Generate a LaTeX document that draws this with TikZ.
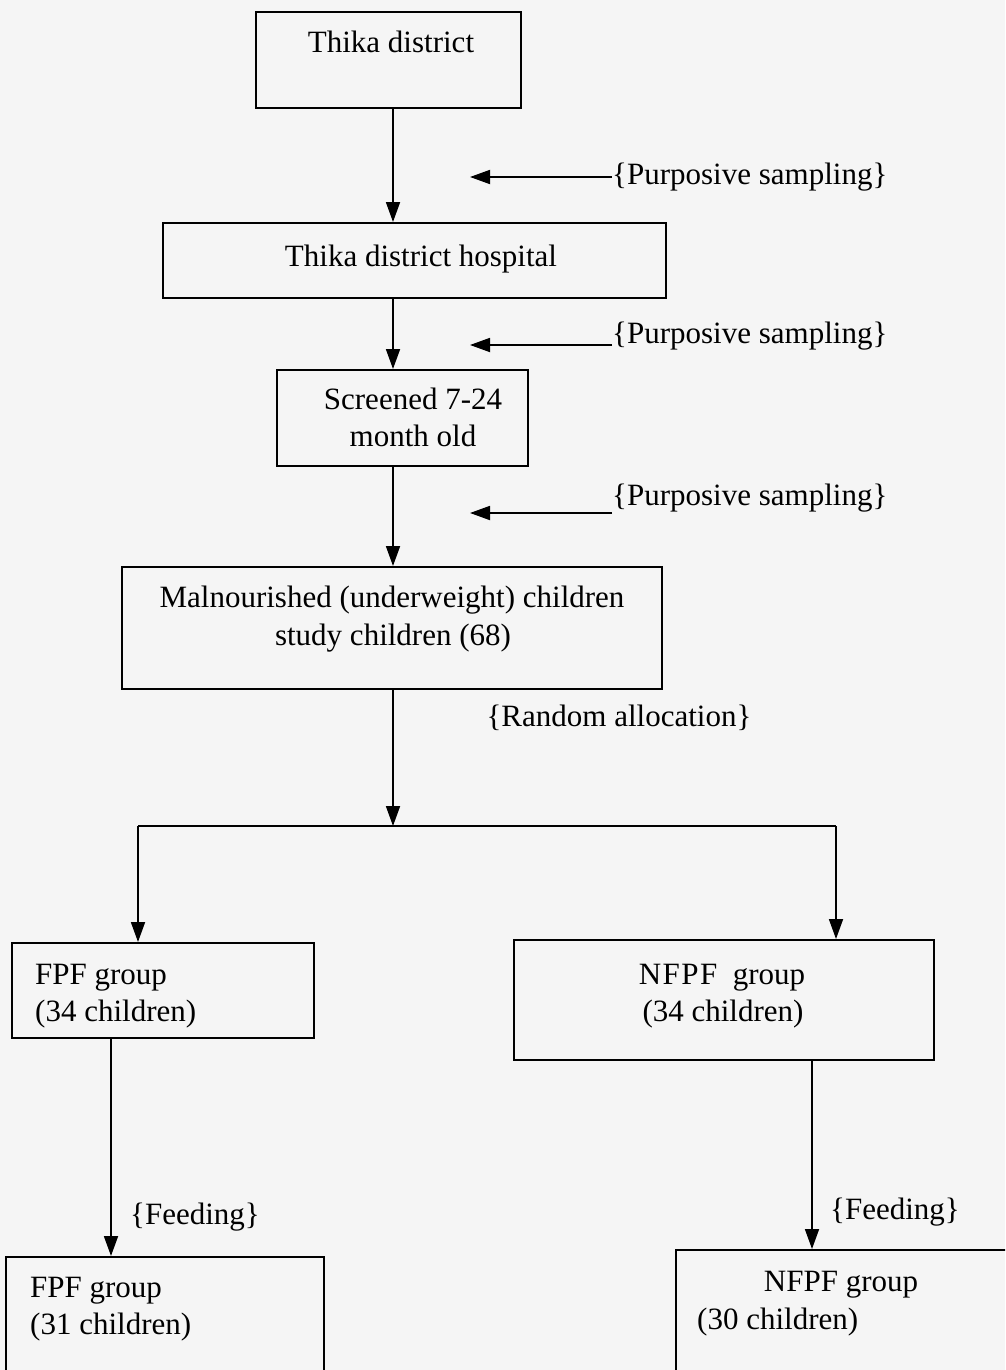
\documentclass[tikz,border=0pt]{standalone}
\usepackage{fontspec}
\setmainfont{Liberation Serif}
\usetikzlibrary{arrows.meta}
\begin{document}
\begin{tikzpicture}[x=1pt,y=-1pt,
  box/.style={draw=black,line width=2pt,inner sep=0pt},
  txt/.style={inner sep=0pt,font=\fontsize{31}{37}\selectfont},
  arr/.style={line width=1.8pt,-{Triangle[length=20pt,width=14pt]}},
  ln/.style={line width=1.8pt}]
\useasboundingbox (0,0) rectangle (1005,1370);
\fill[gray!8] (0,0) rectangle (1005,1370);
\clip (0,0) rectangle (1005,1370);

% boxes
\node[box,minimum width=265pt,minimum height=96pt] (b1) at (388.5,60) {};
\node[box,minimum width=503pt,minimum height=75pt] (b2) at (414.5,260.5) {};
\node[box,minimum width=251pt,minimum height=96pt] (b3) at (402.5,418) {};
\node[box,minimum width=540pt,minimum height=122pt] (b4) at (392,628) {};
\node[box,minimum width=302pt,minimum height=95pt] (b5) at (163,990.5) {};
\node[box,minimum width=420pt,minimum height=120pt] (b6) at (724,1000) {};
\node[box,minimum width=318pt,minimum height=143pt] (b7) at (165,1328.5) {};
\node[box,minimum width=354pt,minimum height=150pt] (b8) at (853,1325) {};

% texts
\node[txt,anchor=base] (t1) at (391,53) {Thika district};
\node[txt,anchor=base] (t2) at (421,266) {Thika district hospital};
\node[txt,anchor=base] (t3a) at (413,409) {Screened 7-24};
\node[txt,anchor=base] (t3b) at (413,446) {month old};
\node[txt,anchor=base] (t4a) at (392,607) {Malnourished (underweight) children};
\node[txt,anchor=base] (t4b) at (393,645) {study children (68)};
\node[txt,anchor=base west] (t5a) at (35,984) {FPF group};
\node[txt,anchor=base west] (t5b) at (35,1021) {(34 children)};
\node[txt,anchor=base] (t6a) at (722,984) {N\kern1.5pt F\kern1.5pt P\kern1.5pt F\ \ group};
\node[txt,anchor=base] (t6b) at (723,1021) {(34 children)};
\node[txt,anchor=base west] (t7a) at (30,1297) {FPF group};
\node[txt,anchor=base west] (t7b) at (30,1334) {(31 children)};
\node[txt,anchor=base] (t8a) at (841,1291) {NFPF group};
\node[txt,anchor=base west] (t8b) at (697,1329) {(30 children)};

% labels
\node[txt,anchor=base west] (p1) at (612,184) {\{Purposive sampling\}};
\node[txt,anchor=base west] (p2) at (612,343) {\{Purposive sampling\}};
\node[txt,anchor=base west] (p3) at (612,505) {\{Purposive sampling\}};
\node[txt,anchor=base] (ra) at (619,726) {\{Random allocation\}};
\node[txt,anchor=base west] (fd1) at (130,1224) {\{Feeding\}};
\node[txt,anchor=base west] (fd2) at (830,1219) {\{Feeding\}};

% main spine
\coordinate (sp) at (393,0);
\draw[arr] (b1.south -| sp) -- (b2.north -| sp);
\draw[arr] (b2.south -| sp) -- (b3.north -| sp);
\draw[arr] (b3.south -| sp) -- (b4.north -| sp);
\coordinate (jn) at (393,826);
\draw[arr] (b4.south -| sp) -- (jn);
\coordinate (jl) at (138,826);
\coordinate (jr) at (836,826);
\draw[ln] (jl) -- (jr);
\draw[arr] (jl) -- (b5.north -| jl);
\draw[arr] (jr) -- (b6.north -| jr);
\coordinate (fl) at (111,0);
\coordinate (fr) at (812,0);
\draw[arr] (b5.south -| fl) -- (b7.north -| fl);
\draw[arr] (b6.south -| fr) -- (b8.north -| fr);

% side arrows
\coordinate (q1) at (470,177);
\coordinate (q2) at (470,345);
\coordinate (q3) at (470,513);
\draw[arr] (p1.base west |- q1) -- (q1);
\draw[arr] (p2.base west |- q2) -- (q2);
\draw[arr] (p3.base west |- q3) -- (q3);
\end{tikzpicture}
\end{document}
